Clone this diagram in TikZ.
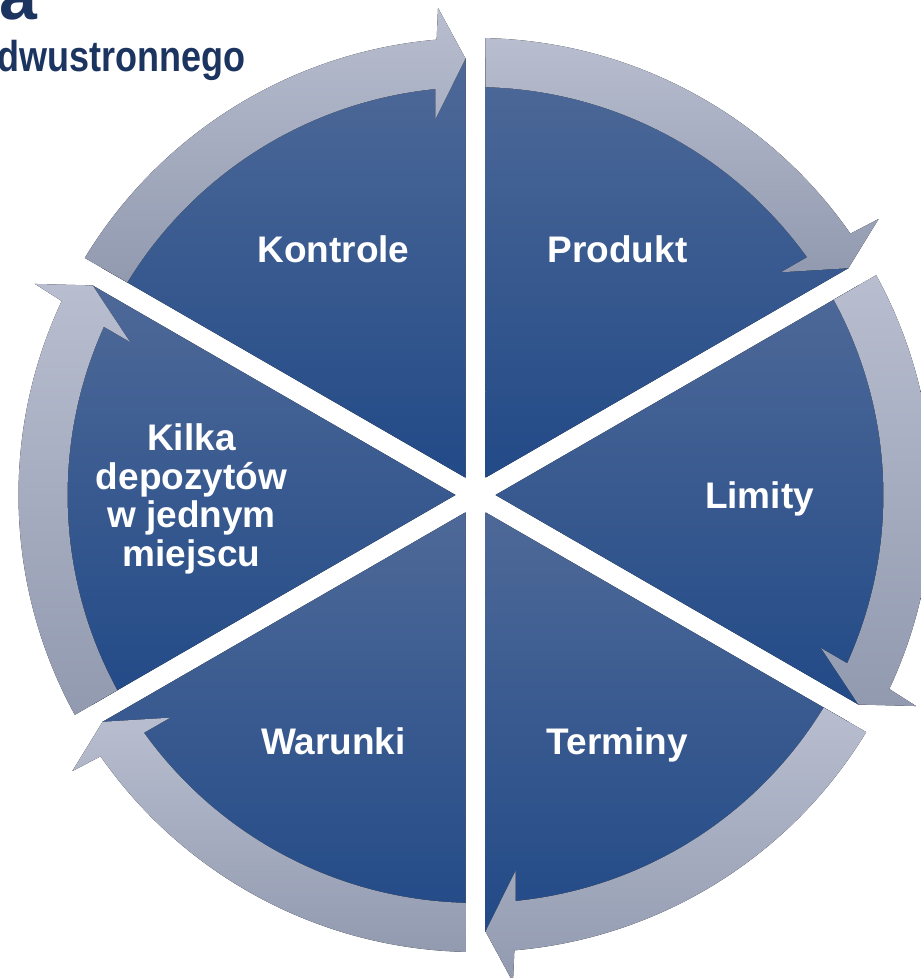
\documentclass[tikz,border=0pt]{standalone}
\usepackage{fontspec}
\setmainfont{Liberation Sans}
\usetikzlibrary{calc}

\definecolor{navy}{RGB}{28,52,96}
\definecolor{wedgetop}{RGB}{78,105,152}
\definecolor{wedgebot}{RGB}{34,74,135}
\definecolor{ringtop}{RGB}{184,190,207}
\definecolor{ringbot}{RGB}{146,154,176}

\tikzset{
  wedge/.style={top color=wedgetop, bottom color=wedgebot},
  ring/.style={top color=ringtop, bottom color=ringbot},
  seglabel/.style={text=white, align=center, inner sep=0pt, text depth=0pt, font=\fontsize{18.5}{19.25}\selectfont\bfseries}
}

\begin{document}
\begin{tikzpicture}[x=.5pt, y=.5pt]
\useasboundingbox (-475.5,-483) rectangle (444.5,495);

% cut-off title
\node[anchor=base east, inner sep=0pt, text=navy, font=\fontsize{34}{34}\selectfont\bfseries] (titlea) at (-438,475) {a};
\node[anchor=base east, inner sep=0pt, text=navy, font=\fontsize{18}{18}\selectfont\bfseries] (subtitle) at (-230,423) {\scalebox{1}[1.2]{dwustronnego}};

\foreach \t/\txt [count=\i] in {90/Kontrole, 30/Produkt, -30/Limity, -90/Terminy, -150/Warunki, 150/{Kilka\\depozytów\\w jednym\\miejscu}} {
  \fill[wedge] (\t+30:20) -- (\t+1.31:437) arc[start angle=\t+1.31, end angle=\t+58.69, radius=437] -- cycle;
  \fill[ring] (\t+58.75:457) arc[start angle=\t+58.75, end angle=\t+4.88, radius=457] -- (\t+4.4:488.5) -- (\t+1.31:436.5) -- (\t+6.1:378) -- (\t+5.64:408) arc[start angle=\t+5.64, end angle=\t+58.6, radius=408] -- cycle;
  \node[seglabel] (seg\i) at (\t+30:284) {\txt};
}

\end{tikzpicture}
\end{document}
